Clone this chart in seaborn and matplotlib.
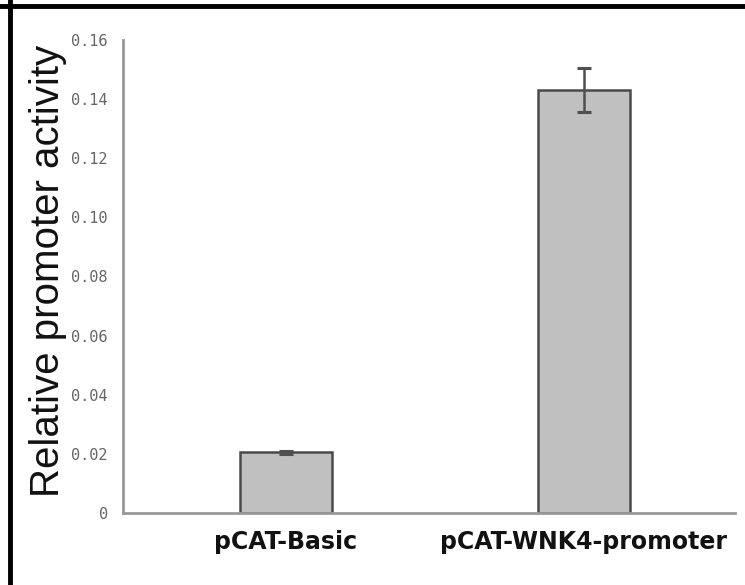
import numpy as np
import pandas as pd
import seaborn as sns
import matplotlib.pyplot as plt
from matplotlib.lines import Line2D

constructs = ['pCAT-Basic', 'pCAT-WNK4-promoter']
activity = [0.0205, 0.1431]
activity_err = [0.0006, 0.0075]
y_ticks = [0, 0.02, 0.04, 0.06, 0.08, 0.10, 0.12, 0.14, 0.16]
y_tick_labels = ['0', '0.02', '0.04', '0.06', '0.08', '0.10', '0.12', '0.14', '0.16']

df = pd.DataFrame({'construct': constructs, 'activity': activity})

sns.set_style('white')
plt.rcParams['font.family'] = ['Liberation Sans', 'DejaVu Sans']

fig = plt.figure(figsize=(7.45, 5.85), dpi=100)
ax = fig.add_axes([123 / 745, 72 / 585, 612 / 745, 473 / 585])

sns.barplot(data=df, x='construct', y='activity', color='#c0c0c0', width=0.31,
            edgecolor='#4a4a4a', linewidth=1.8, saturation=1, ax=ax)

xpos = np.asarray(ax.get_xticks(), dtype=float)
ax.errorbar(xpos, activity, yerr=activity_err, fmt='none', ecolor='#505050',
            elinewidth=1.8, capsize=5, capthick=2.2)

# axis runs a bit past the categories on the left, as in the original
x_lo, x_hi = -0.547, 1.507
ax.set_xlim(x_lo, x_hi)
ax.set_ylim(0, 0.16)
ax.set_yticks(y_ticks)
ax.set_yticklabels(y_tick_labels, family='DejaVu Sans Mono', fontsize=11, color='#666666')
ax.tick_params(axis='y', direction='in', length=4, width=1.5, color='#888888', pad=11)
ax.set_xticks(xpos)
ax.set_xticks([x_lo, 0.5, x_hi], minor=True)
ax.tick_params(axis='x', which='minor', direction='in', length=4, width=1.5, color='#888888')
ax.tick_params(axis='x', which='major', length=0, pad=12)
ax.set_xticklabels(constructs, fontsize=17, fontweight='bold', color='#111111',
                   family='DejaVu Sans')

ax.set_xlabel('')
ax.set_ylabel('Relative promoter activity', fontsize=29, color='#111111')
ax.yaxis.set_label_coords(-0.091, 0.512)

for side in ['top', 'right']:
    ax.spines[side].set_visible(False)
for side in ['left', 'bottom']:
    ax.spines[side].set_color('#999999')
    ax.spines[side].set_linewidth(2)

fig.add_artist(Line2D([10 / 745, 10 / 745], [0, 1], color='black', lw=3.5))
fig.add_artist(Line2D([0, 1], [1 - 6 / 585, 1 - 6 / 585], color='black', lw=3.5))

fig.savefig('out.png', dpi=100)
